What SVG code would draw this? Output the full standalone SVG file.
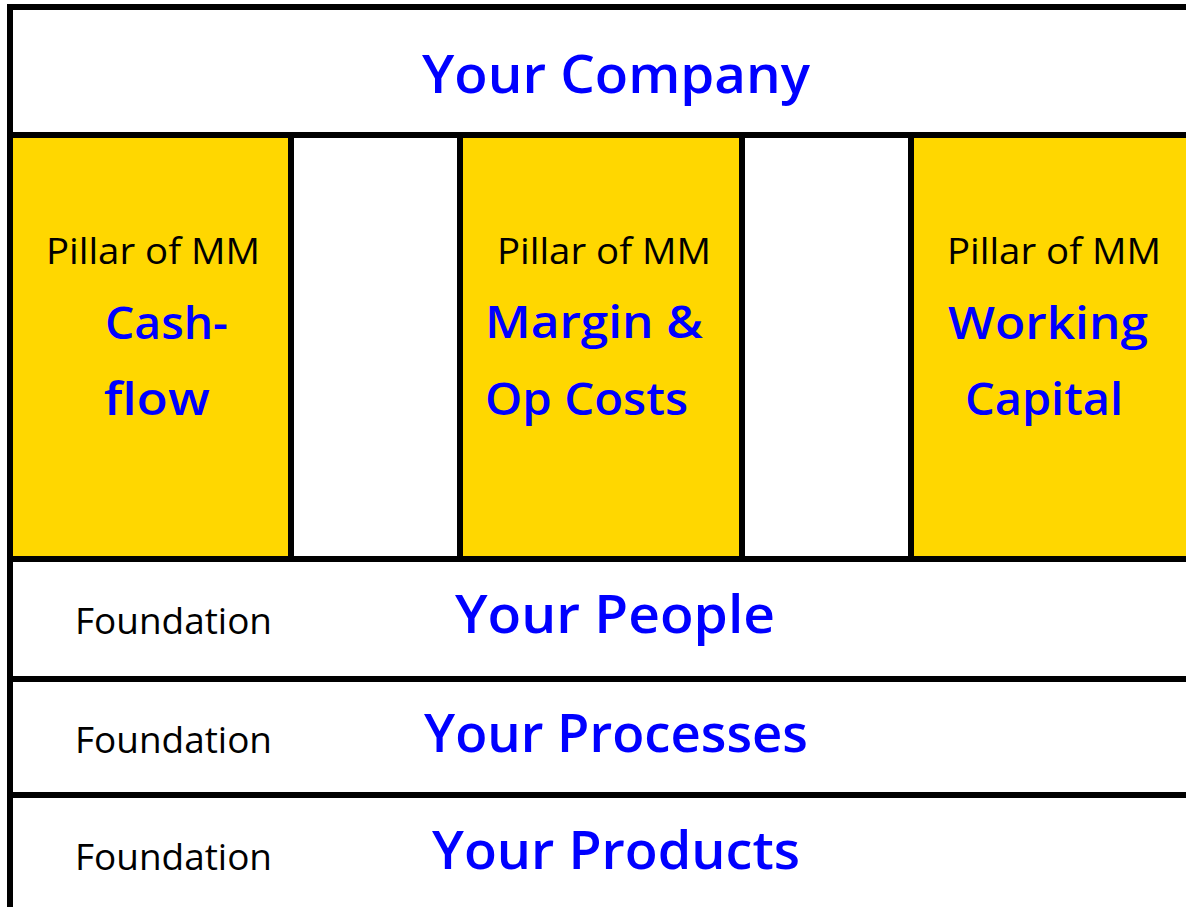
<svg xmlns="http://www.w3.org/2000/svg" width="1186" height="907" viewBox="0 0 1186 907">
  <style>
    .bg { fill: #FFFFFF; }
    .pillar { fill: #FFD700; }
    .line { stroke: #000000; stroke-width: 6; fill: none; }
    .label { font-family: "Open Sans", "Noto Sans", "DejaVu Sans", sans-serif; fill: #000000; font-size: 36px; }
    .title { font-family: "Open Sans", "Noto Sans", "DejaVu Sans", sans-serif; fill: #0000FF; font-weight: 600; }
    .big { font-size: 53px; }
    .mid { font-size: 46px; }
  </style>
  <rect class="bg" x="0" y="0" width="1186" height="907"/>

  <g id="company">
    <text class="title big" x="422" y="93" textLength="388" lengthAdjust="spacingAndGlyphs">Your Company</text>
  </g>

  <g id="pillar-cashflow">
    <rect class="pillar" x="13" y="138" width="275" height="418"/>
    <text class="label" x="46" y="264" textLength="214" lengthAdjust="spacingAndGlyphs">Pillar of MM</text>
    <text class="title mid" x="105" y="339" textLength="123" lengthAdjust="spacingAndGlyphs">Cash-</text>
    <text class="title mid" x="104" y="415" textLength="106" lengthAdjust="spacingAndGlyphs">flow</text>
  </g>

  <g id="gap-1">
    <rect class="bg" x="294" y="138" width="163" height="418"/>
  </g>

  <g id="pillar-margin">
    <rect class="pillar" x="463" y="138" width="276" height="418"/>
    <text class="label" x="497" y="264" textLength="214" lengthAdjust="spacingAndGlyphs">Pillar of MM</text>
    <text class="title mid" x="485" y="338" textLength="218" lengthAdjust="spacingAndGlyphs">Margin &amp;</text>
    <text class="title mid" x="485" y="415" textLength="203" lengthAdjust="spacingAndGlyphs">Op Costs</text>
  </g>

  <g id="gap-2">
    <rect class="bg" x="745" y="138" width="163" height="418"/>
  </g>

  <g id="pillar-working-capital">
    <rect class="pillar" x="914" y="138" width="272" height="418"/>
    <text class="label" x="947" y="264" textLength="214" lengthAdjust="spacingAndGlyphs">Pillar of MM</text>
    <text class="title mid" x="948" y="339" textLength="200" lengthAdjust="spacingAndGlyphs">Working</text>
    <text class="title mid" x="965" y="415" textLength="158" lengthAdjust="spacingAndGlyphs">Capital</text>
  </g>

  <g id="foundation-people">
    <text class="label" x="75" y="634" textLength="197" lengthAdjust="spacingAndGlyphs">Foundation</text>
    <text class="title big" x="455" y="633" textLength="320" lengthAdjust="spacingAndGlyphs">Your People</text>
  </g>

  <g id="foundation-processes">
    <text class="label" x="75" y="753" textLength="197" lengthAdjust="spacingAndGlyphs">Foundation</text>
    <text class="title big" x="424" y="752" textLength="384" lengthAdjust="spacingAndGlyphs">Your Processes</text>
  </g>

  <g id="foundation-products">
    <text class="label" x="75" y="870" textLength="197" lengthAdjust="spacingAndGlyphs">Foundation</text>
    <text class="title big" x="432" y="869" textLength="368" lengthAdjust="spacingAndGlyphs">Your Products</text>
  </g>

  <g id="connectors">
    <line class="line" x1="10" y1="4" x2="10" y2="907"/>
    <line class="line" x1="7" y1="7" x2="1186" y2="7"/>
    <line class="line" x1="7" y1="135" x2="1186" y2="135"/>
    <line class="line" x1="7" y1="559" x2="1186" y2="559"/>
    <line class="line" x1="7" y1="679" x2="1186" y2="679"/>
    <line class="line" x1="7" y1="795" x2="1186" y2="795"/>
    <line class="line" x1="291" y1="135" x2="291" y2="559"/>
    <line class="line" x1="460" y1="135" x2="460" y2="559"/>
    <line class="line" x1="742" y1="135" x2="742" y2="559"/>
    <line class="line" x1="911" y1="135" x2="911" y2="559"/>
  </g>
</svg>
